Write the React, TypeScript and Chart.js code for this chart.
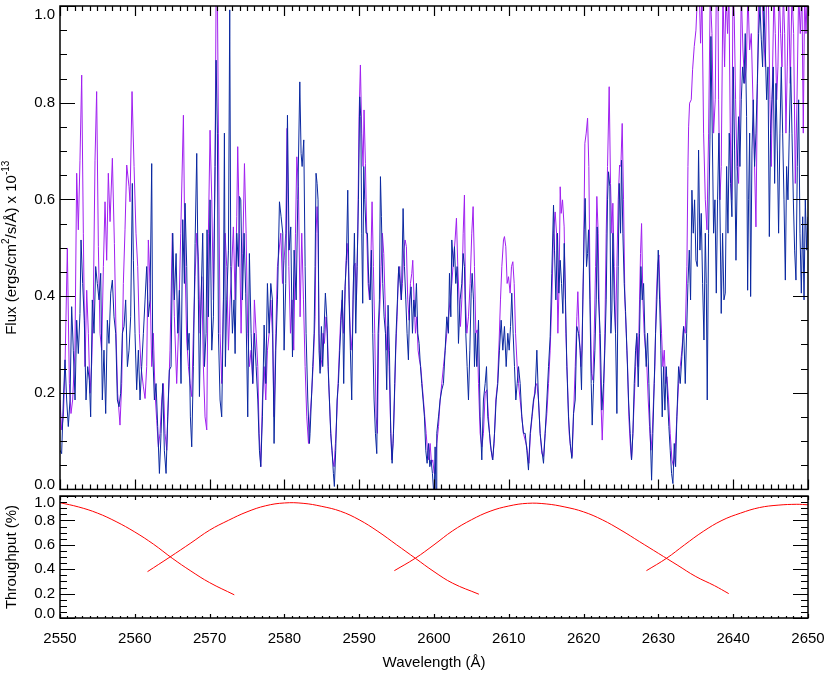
import React, { useEffect, useRef } from 'react';
import { Chart, registerables } from 'chart.js';

Chart.register(...registerables);

// ---------- data (wavelength in Å, flux in 1e-13 ergs/cm^2/s/Å) ----------
const purpleSpectrum: [number, number][] = [
  [2550.0, 0.185], [2550.22, 0.123], [2550.45, 0.15], [2550.67, 0.254], [2550.98, 0.499], [2551.25, 0.219],
  [2551.47, 0.157], [2551.69, 0.185], [2552.0, 0.288], [2552.23, 0.654], [2552.45, 0.537], [2552.67, 0.681],
  [2552.9, 0.857], [2553.12, 0.53], [2553.34, 0.254], [2553.57, 0.412], [2553.79, 0.323], [2554.01, 0.199],
  [2554.24, 0.261], [2554.46, 0.392], [2554.68, 0.681], [2554.9, 0.823], [2555.13, 0.502], [2555.35, 0.323],
  [2555.57, 0.288], [2555.8, 0.461], [2556.02, 0.595], [2556.24, 0.474], [2556.46, 0.654], [2556.69, 0.554],
  [2557.0, 0.685], [2557.27, 0.509], [2557.49, 0.323], [2557.71, 0.199], [2558.02, 0.133], [2558.25, 0.219],
  [2558.47, 0.426], [2558.69, 0.537], [2558.92, 0.671], [2559.23, 0.626], [2559.36, 0.595], [2559.63, 0.823],
  [2559.9, 0.668], [2560.16, 0.53], [2560.39, 0.461], [2560.61, 0.323], [2560.83, 0.254], [2561.15, 0.212],
  [2561.37, 0.188], [2561.59, 0.254], [2561.81, 0.516], [2562.04, 0.426], [2562.26, 0.254], [2562.48, 0.323],
  [2562.71, 0.199], [2562.93, 0.143], [2563.15, 0.088], [2563.37, 0.116], [2563.6, 0.185], [2563.82, 0.219],
  [2564.04, 0.116], [2564.27, 0.081], [2564.49, 0.185], [2564.71, 0.288], [2565.02, 0.53], [2565.29, 0.357],
  [2565.6, 0.219], [2565.83, 0.323], [2566.14, 0.53], [2566.5, 0.774],
  [2566.72, 0.461], [2566.94, 0.309], [2567.17, 0.254], [2567.39, 0.219], [2567.61, 0.192], [2567.83, 0.323],
  [2568.06, 0.44], [2568.28, 0.53], [2568.5, 0.481], [2568.73, 0.323], [2568.95, 0.44], [2569.17, 0.254],
  [2569.39, 0.15], [2569.62, 0.123], [2569.84, 0.53], [2570.06, 0.743], [2570.29, 0.599], [2570.51, 0.392],
  [2570.73, 0.668], [2570.87, 1.03], [2571.04, 1.03], [2571.18, 0.737], [2571.4, 0.323], [2571.62, 0.219],
  [2571.85, 0.392], [2572.07, 0.53], [2572.29, 0.461], [2572.52, 0.288], [2572.74, 0.392], [2572.96, 0.461],
  [2573.18, 0.543], [2573.41, 0.392], [2573.63, 0.564], [2573.76, 0.709], [2573.99, 0.53], [2574.21, 0.323],
  [2574.43, 0.488], [2574.66, 0.674], [2574.88, 0.53], [2575.1, 0.323], [2575.32, 0.254], [2575.55, 0.288],
  [2575.77, 0.219], [2575.99, 0.392], [2576.22, 0.323], [2576.44, 0.254], [2576.62, 0.116], [2576.84, 0.047],
  [2577.06, 0.185], [2577.29, 0.254], [2577.51, 0.185], [2577.73, 0.288], [2577.96, 0.323], [2578.18, 0.392],
  [2578.4, 0.323], [2578.62, 0.15], [2578.85, 0.323], [2579.07, 0.461], [2579.29, 0.495], [2579.52, 0.53],
  [2579.74, 0.426], [2579.96, 0.474], [2580.18, 0.53], [2580.36, 0.747], [2580.59, 0.461], [2580.81, 0.323],
  [2581.03, 0.392], [2581.25, 0.288], [2581.48, 0.53], [2581.66, 0.688], [2581.88, 0.626], [2582.1, 0.357],
  [2582.32, 0.53], [2582.55, 0.392], [2582.77, 0.254], [2582.99, 0.15], [2583.22, 0.095],
  [2583.43, 0.15], [2583.65, 0.199], [2583.88, 0.268], [2584.1, 0.357], [2584.23, 0.53], [2584.37, 0.585],
  [2584.5, 0.53], [2584.63, 0.323], [2584.81, 0.247], [2584.99, 0.268], [2585.17, 0.323], [2585.35, 0.302],
  [2585.57, 0.357], [2585.75, 0.323], [2585.93, 0.219], [2586.11, 0.15], [2586.28, 0.095], [2586.46, 0.061],
  [2586.64, 0.047], [2586.82, 0.095], [2587.0, 0.15], [2587.17, 0.219], [2587.35, 0.288], [2587.53, 0.357],
  [2587.71, 0.392], [2587.89, 0.323], [2588.07, 0.392], [2588.25, 0.474], [2588.38, 0.509], [2588.56, 0.461],
  [2588.74, 0.357], [2588.91, 0.288], [2589.09, 0.323], [2589.27, 0.461], [2589.45, 0.468], [2589.63, 0.392],
  [2589.81, 0.53], [2589.98, 0.771], [2590.16, 0.878], [2590.34, 0.737], [2590.52, 0.668], [2590.65, 0.785],
  [2590.83, 0.674], [2591.01, 0.53], [2591.19, 0.426], [2591.37, 0.392], [2591.54, 0.461], [2591.72, 0.595],
  [2591.9, 0.461], [2592.08, 0.323], [2592.26, 0.15], [2592.44, 0.116], [2592.61, 0.323], [2592.79, 0.392],
  [2592.93, 0.461], [2593.1, 0.53], [2593.28, 0.488], [2593.46, 0.392], [2593.64, 0.288], [2593.82, 0.337],
  [2594.0, 0.254], [2594.17, 0.15], [2594.35, 0.061], [2594.53, 0.095], [2594.71, 0.185], [2594.89, 0.288],
  [2595.07, 0.357], [2595.24, 0.447], [2595.42, 0.461], [2595.6, 0.392], [2595.78, 0.426], [2595.96, 0.495],
  [2596.14, 0.516], [2596.31, 0.502], [2596.49, 0.392], [2596.67, 0.35], [2596.85, 0.426], [2597.03, 0.447],
  [2597.16, 0.474], [2597.34, 0.392], [2597.52, 0.323], [2597.7, 0.357], [2597.87, 0.288], [2598.05, 0.268],
  [2598.23, 0.254], [2598.41, 0.219], [2598.59, 0.185], [2598.77, 0.15], [2598.95, 0.116], [2599.12, 0.081],
  [2599.3, 0.061], [2599.48, 0.095], [2599.66, 0.054], [2599.84, 0.061], [2600.02, 0.033],
  [2600.15, 0.033], [2600.37, 0.095], [2600.6, 0.13], [2600.82, 0.185], [2601.04, 0.219], [2601.26, 0.254],
  [2601.49, 0.288], [2601.71, 0.323], [2601.93, 0.357], [2602.16, 0.392], [2602.38, 0.426], [2602.6, 0.474],
  [2602.82, 0.516], [2603.0, 0.561], [2603.18, 0.461], [2603.36, 0.392], [2603.54, 0.337], [2603.72, 0.392],
  [2603.9, 0.53], [2604.07, 0.609], [2604.21, 0.392], [2604.39, 0.323], [2604.61, 0.357], [2604.83, 0.426],
  [2605.05, 0.53], [2605.23, 0.585], [2605.41, 0.461], [2605.59, 0.323], [2605.77, 0.33], [2605.95, 0.219],
  [2606.17, 0.116], [2606.39, 0.088], [2606.61, 0.116], [2606.84, 0.199], [2607.06, 0.206], [2607.28, 0.15],
  [2607.51, 0.095], [2607.82, 0.061], [2608.04, 0.095], [2608.26, 0.185], [2608.49, 0.219], [2608.71, 0.309],
  [2608.89, 0.392], [2609.07, 0.461], [2609.29, 0.516], [2609.42, 0.523], [2609.6, 0.502], [2609.78, 0.426],
  [2609.96, 0.44], [2610.18, 0.406], [2610.36, 0.461], [2610.54, 0.471], [2610.72, 0.426], [2610.9, 0.323],
  [2611.12, 0.254], [2611.3, 0.219], [2611.52, 0.185], [2611.74, 0.15], [2611.96, 0.116], [2612.19, 0.102],
  [2612.41, 0.088], [2612.68, 0.054], [2612.9, 0.116], [2613.12, 0.15], [2613.35, 0.185], [2613.52, 0.212],
  [2613.75, 0.219], [2613.97, 0.185], [2614.19, 0.116], [2614.42, 0.074], [2614.64, 0.068], [2614.86, 0.116],
  [2615.09, 0.157], [2615.31, 0.219], [2615.53, 0.288], [2615.75, 0.392], [2615.98, 0.53], [2616.2, 0.574],
  [2616.38, 0.53], [2616.56, 0.323], [2616.73, 0.426],
  [2616.87, 0.626], [2617.0, 0.571], [2617.18, 0.599], [2617.4, 0.543], [2617.63, 0.323], [2617.85, 0.219],
  [2618.07, 0.116], [2618.3, 0.081], [2618.47, 0.068], [2618.65, 0.15], [2618.88, 0.254], [2619.1, 0.357],
  [2619.23, 0.409], [2619.41, 0.323], [2619.63, 0.254], [2619.77, 0.288], [2619.99, 0.461], [2620.17, 0.716],
  [2620.35, 0.737], [2620.53, 0.768], [2620.7, 0.668], [2620.88, 0.392], [2621.06, 0.24], [2621.24, 0.226],
  [2621.42, 0.323], [2621.6, 0.461], [2621.77, 0.606], [2621.95, 0.53], [2622.13, 0.323], [2622.31, 0.185],
  [2622.49, 0.102], [2622.67, 0.185], [2622.84, 0.323], [2623.02, 0.53], [2623.2, 0.668], [2623.42, 0.833],
  [2623.6, 0.633], [2623.78, 0.53], [2623.91, 0.592], [2624.09, 0.461], [2624.27, 0.323], [2624.45, 0.461],
  [2624.63, 0.599], [2624.81, 0.671], [2624.98, 0.668], [2625.16, 0.757], [2625.34, 0.599], [2625.52, 0.392],
  [2625.7, 0.323], [2625.88, 0.254], [2626.05, 0.15], [2626.23, 0.095], [2626.41, 0.061], [2626.59, 0.116],
  [2626.77, 0.185], [2626.95, 0.254], [2627.12, 0.316], [2627.3, 0.254], [2627.48, 0.392], [2627.61, 0.488],
  [2627.75, 0.55], [2627.93, 0.392], [2628.1, 0.323], [2628.28, 0.288], [2628.46, 0.254], [2628.64, 0.185],
  [2628.82, 0.13], [2629.0, 0.081], [2629.18, 0.116], [2629.35, 0.185], [2629.53, 0.254], [2629.71, 0.392],
  [2629.89, 0.461], [2630.07, 0.485], [2630.24, 0.392], [2630.42, 0.323], [2630.6, 0.254], [2630.78, 0.288],
  [2630.96, 0.219], [2631.14, 0.233], [2631.36, 0.185], [2631.58, 0.116], [2631.81, 0.061], [2632.03, 0.047],
  [2632.25, 0.081], [2632.47, 0.15], [2632.7, 0.219], [2632.92, 0.254], [2633.14, 0.288], [2633.37, 0.337],
  [2633.59, 0.323], [2633.81, 0.461], [2633.95, 0.668], [2634.04, 0.75], [2634.17, 0.799], [2634.39, 0.806],
  [2634.57, 0.868], [2634.79, 0.916], [2635.02, 0.95], [2635.24, 1.03], [2635.46, 1.03], [2635.64, 0.923],
  [2635.82, 1.03], [2636.04, 0.737], [2636.27, 0.599], [2636.49, 0.537], [2636.71, 0.737], [2636.93, 1.03],
  [2637.16, 0.943], [2637.38, 0.737], [2637.6, 0.806], [2637.74, 1.03], [2637.96, 1.03], [2638.05, 0.806],
  [2638.23, 0.599], [2638.4, 0.668], [2638.63, 1.03], [2638.85, 0.874], [2639.03, 1.03], [2639.25, 0.943],
  [2639.43, 1.03], [2639.61, 0.737], [2639.79, 0.599], [2639.97, 1.03], [2640.14, 0.978], [2640.32, 0.806],
  [2640.5, 0.668], [2640.72, 0.633], [2640.9, 0.806], [2641.08, 1.03], [2641.3, 0.909], [2641.53, 0.84],
  [2641.75, 0.874], [2641.97, 1.03], [2642.19, 0.909], [2642.42, 0.943], [2642.64, 0.806], [2642.86, 0.668],
  [2643.04, 0.543], [2643.22, 0.806], [2643.4, 1.03], [2643.84, 1.03], [2644.07, 0.943], [2644.29, 0.874],
  [2644.47, 1.03], [2644.69, 1.03], [2644.91, 0.806], [2645.09, 0.668], [2645.27, 0.874], [2645.45, 1.03],
  [2645.63, 0.943], [2645.81, 0.806], [2645.98, 0.874], [2646.16, 1.03], [2646.34, 0.943], [2646.52, 0.874],
  [2646.7, 1.03], [2646.88, 0.943], [2647.05, 0.737], [2647.23, 0.874], [2647.41, 1.03], [2647.63, 0.84],
  [2647.86, 1.03], [2648.08, 0.943], [2648.3, 0.633], [2648.53, 0.806], [2648.75, 1.03], [2648.97, 0.943],
  [2649.19, 1.03], [2649.37, 0.737], [2649.55, 1.03], [2649.73, 0.943], [2649.91, 1.03],
];

const blueSpectrum: [number, number][] = [
  [2550.0, 0.081], [2550.22, 0.074], [2550.45, 0.185], [2550.67, 0.268], [2550.89, 0.185], [2551.11, 0.13],
  [2551.34, 0.185], [2551.56, 0.378], [2551.78, 0.288], [2552.01, 0.185], [2552.23, 0.35], [2552.45, 0.281],
  [2552.67, 0.364], [2552.81, 0.516], [2553.03, 0.426], [2553.25, 0.35], [2553.48, 0.185], [2553.7, 0.254],
  [2553.92, 0.226], [2554.1, 0.15], [2554.32, 0.392], [2554.55, 0.323], [2554.77, 0.461], [2554.99, 0.426],
  [2555.22, 0.392], [2555.44, 0.447], [2555.66, 0.185], [2555.88, 0.288], [2556.11, 0.157], [2556.33, 0.35],
  [2556.55, 0.302], [2556.78, 0.406], [2557.0, 0.433], [2557.22, 0.357], [2557.45, 0.323], [2557.67, 0.185],
  [2557.89, 0.171], [2558.11, 0.199], [2558.34, 0.323], [2558.56, 0.337], [2558.78, 0.392], [2559.01, 0.254],
  [2559.23, 0.288], [2559.45, 0.357], [2559.67, 0.633], [2559.81, 0.474], [2560.03, 0.323], [2560.25, 0.206],
  [2560.48, 0.288], [2560.7, 0.185], [2560.92, 0.254], [2561.15, 0.323], [2561.37, 0.392], [2561.59, 0.461],
  [2561.81, 0.357], [2562.04, 0.392], [2562.26, 0.674], [2562.39, 0.288], [2562.62, 0.185], [2562.84, 0.219],
  [2563.06, 0.13], [2563.29, 0.033], [2563.51, 0.116], [2563.73, 0.219], [2563.95, 0.081], [2564.18, 0.033],
  [2564.4, 0.15], [2564.62, 0.247], [2564.85, 0.254], [2565.07, 0.53], [2565.29, 0.392], [2565.52, 0.488],
  [2565.74, 0.323], [2565.96, 0.412], [2566.18, 0.219], [2566.41, 0.558], [2566.63, 0.426],
  [2566.72, 0.592], [2566.94, 0.461], [2567.08, 0.288], [2567.26, 0.323], [2567.43, 0.15], [2567.61, 0.088],
  [2567.83, 0.254], [2568.06, 0.509], [2568.28, 0.695], [2568.5, 0.392], [2568.64, 0.192], [2568.86, 0.392],
  [2569.08, 0.53], [2569.31, 0.254], [2569.53, 0.323], [2569.66, 0.537], [2569.84, 0.357], [2570.06, 0.599],
  [2570.29, 0.288], [2570.51, 0.357], [2570.73, 0.668], [2570.87, 0.888], [2571.04, 0.737], [2571.18, 0.323],
  [2571.4, 0.185], [2571.62, 0.15], [2571.85, 0.392], [2571.98, 0.737], [2572.11, 0.254], [2572.29, 0.392],
  [2572.52, 0.495], [2572.69, 0.992], [2572.83, 0.461], [2573.05, 0.323], [2573.27, 0.392], [2573.41, 0.281],
  [2573.63, 0.53], [2573.85, 0.461], [2573.99, 0.606], [2574.17, 0.599], [2574.39, 0.392], [2574.61, 0.53],
  [2574.83, 0.406], [2575.1, 0.15], [2575.32, 0.488], [2575.55, 0.323], [2575.77, 0.219], [2575.99, 0.323],
  [2576.22, 0.254], [2576.44, 0.185], [2576.66, 0.081], [2576.84, 0.047], [2577.06, 0.15], [2577.29, 0.34],
  [2577.51, 0.219], [2577.73, 0.426], [2577.96, 0.323], [2578.18, 0.426], [2578.4, 0.392], [2578.62, 0.095],
  [2578.85, 0.288], [2579.07, 0.392], [2579.34, 0.595], [2579.56, 0.564], [2579.78, 0.53], [2579.96, 0.288],
  [2580.18, 0.426], [2580.41, 0.774], [2580.63, 0.495], [2580.85, 0.543], [2581.08, 0.274], [2581.3, 0.495],
  [2581.57, 0.392], [2581.79, 0.599], [2582.06, 0.843], [2582.23, 0.695], [2582.37, 0.668], [2582.59, 0.723],
  [2582.77, 0.461], [2582.9, 0.323], [2583.13, 0.185], [2583.35, 0.095],
  [2583.43, 0.116], [2583.61, 0.185], [2583.79, 0.254], [2583.97, 0.323], [2584.1, 0.461], [2584.23, 0.654],
  [2584.37, 0.633], [2584.5, 0.599], [2584.63, 0.288], [2584.77, 0.24], [2584.95, 0.337], [2585.12, 0.254],
  [2585.3, 0.33], [2585.48, 0.406], [2585.66, 0.357], [2585.84, 0.254], [2586.02, 0.185], [2586.19, 0.116],
  [2586.37, 0.081], [2586.55, 0.033], [2586.68, 0.006], [2586.86, 0.081], [2587.04, 0.185], [2587.22, 0.219],
  [2587.4, 0.288], [2587.58, 0.35], [2587.75, 0.412], [2587.93, 0.219], [2588.11, 0.419], [2588.29, 0.474],
  [2588.47, 0.619], [2588.65, 0.392], [2588.82, 0.288], [2589.0, 0.185], [2589.18, 0.392], [2589.36, 0.53],
  [2589.54, 0.323], [2589.72, 0.461], [2589.9, 0.599], [2590.07, 0.812], [2590.21, 0.771], [2590.34, 0.53],
  [2590.47, 0.385], [2590.61, 0.668], [2590.74, 0.599], [2590.92, 0.53], [2591.1, 0.53], [2591.28, 0.426],
  [2591.46, 0.392], [2591.63, 0.495], [2591.81, 0.323], [2591.99, 0.185], [2592.17, 0.116], [2592.35, 0.074],
  [2592.53, 0.323], [2592.7, 0.392], [2592.84, 0.647], [2592.97, 0.564], [2593.15, 0.426], [2593.33, 0.357],
  [2593.51, 0.323], [2593.68, 0.206], [2593.86, 0.381], [2594.04, 0.288], [2594.22, 0.116], [2594.4, 0.054],
  [2594.58, 0.116], [2594.75, 0.219], [2594.93, 0.323], [2595.11, 0.392], [2595.29, 0.461], [2595.47, 0.426],
  [2595.65, 0.392], [2595.87, 0.581], [2596.05, 0.461], [2596.23, 0.392], [2596.4, 0.323], [2596.58, 0.268],
  [2596.76, 0.392], [2596.94, 0.419], [2597.12, 0.323], [2597.3, 0.392], [2597.47, 0.357], [2597.65, 0.426],
  [2597.83, 0.323], [2598.01, 0.302], [2598.19, 0.254], [2598.36, 0.219], [2598.54, 0.185], [2598.72, 0.15],
  [2598.9, 0.081], [2599.08, 0.054], [2599.26, 0.095], [2599.44, 0.047], [2599.61, 0.061], [2599.79, 0.033],
  [2600.02, -0.02],
  [2600.15, 0.088], [2600.28, -0.02], [2600.37, 0.116], [2600.6, 0.15], [2600.82, 0.185], [2601.04, 0.206],
  [2601.26, 0.219], [2601.49, 0.288], [2601.71, 0.357], [2601.93, 0.323], [2602.07, 0.447], [2602.25, 0.357],
  [2602.38, 0.516], [2602.6, 0.461], [2602.74, 0.502], [2602.91, 0.426], [2603.09, 0.461], [2603.27, 0.302],
  [2603.49, 0.392], [2603.72, 0.426], [2603.9, 0.488], [2604.07, 0.461], [2604.25, 0.323], [2604.43, 0.254],
  [2604.61, 0.185], [2604.79, 0.288], [2604.97, 0.406], [2605.1, 0.447], [2605.28, 0.392], [2605.41, 0.254],
  [2605.54, 0.323], [2605.72, 0.254], [2605.95, 0.35], [2606.17, 0.15], [2606.39, 0.061], [2606.61, 0.185],
  [2606.84, 0.219], [2607.02, 0.254], [2607.19, 0.15], [2607.42, 0.116], [2607.64, 0.081], [2607.86, 0.061],
  [2608.09, 0.116], [2608.31, 0.185], [2608.53, 0.219], [2608.75, 0.288], [2608.98, 0.35], [2609.2, 0.288],
  [2609.42, 0.337], [2609.65, 0.254], [2609.87, 0.323], [2610.05, 0.288], [2610.23, 0.337], [2610.4, 0.406],
  [2610.58, 0.323], [2610.76, 0.254], [2610.94, 0.185], [2611.12, 0.219], [2611.3, 0.254], [2611.52, 0.219],
  [2611.74, 0.15], [2611.96, 0.116], [2612.19, 0.116], [2612.41, 0.081], [2612.63, 0.04], [2612.86, 0.116],
  [2613.08, 0.15], [2613.3, 0.185], [2613.52, 0.199], [2613.75, 0.288], [2613.97, 0.185], [2614.19, 0.116],
  [2614.42, 0.081], [2614.64, 0.054], [2614.86, 0.116], [2615.09, 0.185], [2615.31, 0.254], [2615.53, 0.316],
  [2615.75, 0.447], [2615.98, 0.588], [2616.11, 0.495], [2616.29, 0.392], [2616.51, 0.53], [2616.69, 0.406],
  [2616.87, 0.474], [2617.05, 0.426], [2617.23, 0.364], [2617.41, 0.509], [2617.58, 0.392], [2617.76, 0.254],
  [2617.98, 0.15], [2618.21, 0.095], [2618.43, 0.064], [2618.65, 0.157], [2618.88, 0.185], [2619.1, 0.337],
  [2619.32, 0.323], [2619.55, 0.288], [2619.72, 0.206], [2619.9, 0.392], [2620.08, 0.537], [2620.21, 0.602],
  [2620.39, 0.461], [2620.53, 0.488], [2620.66, 0.537], [2620.84, 0.392], [2621.02, 0.219], [2621.15, 0.133],
  [2621.33, 0.219], [2621.51, 0.288], [2621.69, 0.392], [2621.82, 0.543], [2622.0, 0.392], [2622.22, 0.323],
  [2622.44, 0.164], [2622.67, 0.219], [2622.84, 0.288], [2623.02, 0.392], [2623.2, 0.599], [2623.33, 0.657],
  [2623.51, 0.626], [2623.65, 0.323], [2623.78, 0.371], [2623.91, 0.53], [2624.09, 0.392], [2624.27, 0.323],
  [2624.45, 0.157], [2624.63, 0.461], [2624.76, 0.633], [2624.94, 0.53], [2625.07, 0.681], [2625.25, 0.53],
  [2625.43, 0.426], [2625.61, 0.368], [2625.79, 0.288], [2626.01, 0.185], [2626.23, 0.116], [2626.41, 0.061],
  [2626.59, 0.116], [2626.77, 0.219], [2626.95, 0.288], [2627.12, 0.323], [2627.3, 0.212], [2627.48, 0.323],
  [2627.66, 0.461], [2627.84, 0.392], [2628.02, 0.426], [2628.19, 0.323], [2628.37, 0.254], [2628.55, 0.323],
  [2628.73, 0.219], [2628.91, 0.116], [2629.09, 0.019], [2629.26, 0.116], [2629.44, 0.219], [2629.62, 0.323],
  [2629.8, 0.392], [2629.98, 0.495], [2630.16, 0.392], [2630.33, 0.288], [2630.51, 0.15], [2630.69, 0.254],
  [2630.87, 0.164], [2631.05, 0.254], [2631.23, 0.185], [2631.4, 0.13], [2631.58, 0.081], [2631.76, 0.033],
  [2631.94, 0.012], [2632.12, 0.095], [2632.3, 0.047], [2632.47, 0.15], [2632.7, 0.254], [2632.92, 0.219],
  [2633.14, 0.275], [2633.37, 0.337],
  [2633.59, 0.219], [2633.77, 0.323], [2633.95, 0.426], [2634.13, 0.495], [2634.3, 0.392], [2634.48, 0.619],
  [2634.66, 0.53], [2634.84, 0.599], [2635.02, 0.474], [2635.2, 0.461], [2635.37, 0.702], [2635.55, 0.495],
  [2635.73, 0.571], [2635.91, 0.426], [2636.09, 0.309], [2636.27, 0.53], [2636.4, 0.426], [2636.53, 0.185],
  [2636.71, 0.53], [2636.89, 0.723], [2637.02, 0.937], [2637.2, 0.737], [2637.38, 0.53], [2637.56, 0.599],
  [2637.74, 0.406], [2637.91, 0.599], [2638.09, 0.737], [2638.27, 0.53], [2638.4, 0.364], [2638.58, 0.53],
  [2638.76, 0.392], [2638.94, 0.406], [2639.12, 0.668], [2639.3, 0.53], [2639.47, 0.737], [2639.65, 0.633],
  [2639.83, 0.564], [2640.01, 0.874], [2640.19, 0.702], [2640.37, 0.474], [2640.55, 0.668], [2640.72, 0.771],
  [2640.9, 0.668], [2641.08, 0.806], [2641.26, 0.874], [2641.44, 0.84], [2641.61, 0.943], [2641.79, 0.771],
  [2641.93, 0.412], [2642.06, 0.599], [2642.2, 0.737], [2642.33, 0.399], [2642.51, 0.702], [2642.69, 0.806],
  [2642.86, 0.668], [2643.04, 0.737], [2643.22, 0.84], [2643.4, 0.943], [2643.58, 1.0], [2643.76, 0.93],
  [2643.93, 0.874], [2644.11, 1.0], [2644.29, 0.909], [2644.47, 0.806], [2644.65, 0.874], [2644.83, 0.523],
  [2645.0, 0.737], [2645.18, 0.806], [2645.36, 0.874], [2645.54, 0.633], [2645.72, 0.84], [2645.9, 0.702],
  [2646.07, 0.53], [2646.25, 0.737], [2646.43, 0.874], [2646.61, 0.737], [2646.79, 0.599], [2646.97, 0.433],
  [2647.14, 0.668], [2647.32, 0.599], [2647.5, 0.737], [2647.68, 0.874], [2647.86, 0.737], [2648.04, 0.599],
  [2648.21, 0.495], [2648.39, 0.433], [2648.57, 0.668], [2648.75, 0.806], [2648.93, 0.53], [2649.11, 0.406],
  [2649.29, 0.564], [2649.47, 0.392], [2649.64, 0.599], [2649.82, 0.495], [2650.0, 0.564],
];

// throughput curves (fraction)
const throughputA: [number, number][] = [
  [2550.0, 0.945], [2552.5, 0.91], [2555.0, 0.86], [2557.5, 0.79], [2560.0, 0.705], [2562.5, 0.605],
  [2565.0, 0.49], [2567.5, 0.385], [2570.0, 0.29], [2573.3, 0.19],
];
const throughputB: [number, number][] = [
  [2561.7, 0.38], [2564.7, 0.5], [2567.5, 0.615], [2570.0, 0.72], [2572.5, 0.8], [2575.0, 0.87],
  [2577.5, 0.92], [2580.0, 0.943], [2582.5, 0.94], [2585.0, 0.915], [2587.5, 0.875], [2590.0, 0.805],
  [2592.5, 0.71], [2595.0, 0.6], [2597.5, 0.49], [2600.0, 0.38], [2602.5, 0.285], [2606.0, 0.195],
];
const throughputC: [number, number][] = [
  [2594.7, 0.388], [2597.5, 0.49], [2600.0, 0.6], [2602.5, 0.715], [2605.0, 0.805], [2607.5, 0.875],
  [2610.0, 0.918], [2612.5, 0.94], [2615.0, 0.935], [2617.5, 0.91], [2620.0, 0.87], [2622.5, 0.805],
  [2625.0, 0.72], [2627.5, 0.625], [2630.0, 0.53], [2632.5, 0.435], [2635.0, 0.34], [2637.5, 0.265],
  [2639.4, 0.2],
];
const throughputD: [number, number][] = [
  [2628.4, 0.388], [2631.1, 0.49], [2633.5, 0.6], [2636.0, 0.71], [2638.5, 0.8], [2641.0, 0.86],
  [2643.5, 0.905], [2646.0, 0.925], [2648.5, 0.932], [2650.0, 0.928],
];

const xTickLabels = ['2550', '2560', '2570', '2580', '2590', '2600', '2610', '2620', '2630', '2640', '2650'];
const fluxTickLabels = ['0.0', '0.2', '0.4', '0.6', '0.8', '1.0'];
const throughputTickLabels = ['0.0', '0.2', '0.4', '0.6', '0.8', '1.0'];

const FONT_FAMILY = '"Liberation Sans", Arial, Helvetica, sans-serif';
const PURPLE = '#a020f0';
const BLUE = '#0a28a0';
const RED = '#ff0000';

const W = 830;
const H = 673;

type FrameCfg = {
  xMajor: number;
  xMinor: number;
  yMajor: number;
  yMinor: number;
  yLabels: string[];
  labelTopShift: number;
  labelBottomShift: number;
  xLabels: boolean;
  title: 'flux' | 'throughput';
};

function toPoints(arr: [number, number][]) {
  return arr.map(([x, y]) => ({ x, y }));
}

function drawFrame(chart: any, cfg: FrameCfg) {
  const ctx: CanvasRenderingContext2D = chart.ctx;
  const a = chart.chartArea;
  const xs = chart.scales.x;
  const ys = chart.scales.y;
  ctx.save();
  ctx.strokeStyle = '#000';
  ctx.fillStyle = '#000';
  ctx.lineWidth = 1.2;
  ctx.beginPath();
  const x0 = Number(xTickLabels[0]);
  const x1 = Number(xTickLabels[xTickLabels.length - 1]);
  for (let v = x0; v <= x1; v += 1) {
    const px = Math.round(xs.getPixelForValue(v)) + 0.5;
    const len = (v - x0) % 10 === 0 ? cfg.xMajor : cfg.xMinor;
    ctx.moveTo(px, a.bottom);
    ctx.lineTo(px, a.bottom - len);
    ctx.moveTo(px, a.top);
    ctx.lineTo(px, a.top + len);
  }
  for (let k = 0; k <= 20; k++) {
    const v = k * 0.05;
    const py = Math.round(ys.getPixelForValue(v)) + 0.5;
    const len = k % 4 === 0 ? cfg.yMajor : cfg.yMinor;
    ctx.moveTo(a.left, py);
    ctx.lineTo(a.left + len, py);
    ctx.moveTo(a.right, py);
    ctx.lineTo(a.right - len, py);
  }
  ctx.stroke();
  ctx.lineWidth = 1.5;
  ctx.strokeRect(a.left, a.top, a.right - a.left, a.bottom - a.top);

  ctx.font = `15px ${FONT_FAMILY}`;
  ctx.textAlign = 'right';
  ctx.textBaseline = 'middle';
  cfg.yLabels.forEach((lab) => {
    let py = ys.getPixelForValue(Number(lab));
    py = Math.max(a.top + cfg.labelTopShift, Math.min(a.bottom - cfg.labelBottomShift, py));
    ctx.fillText(lab, a.left - 5, py);
  });

  if (cfg.xLabels) {
    ctx.textAlign = 'center';
    xTickLabels.forEach((lab) => {
      ctx.fillText(lab, xs.getPixelForValue(Number(lab)), a.bottom + 21);
    });
    ctx.fillText('Wavelength (Å)', (a.left + a.right) / 2, a.bottom + 45);
  }

  // rotated y title
  const cy = (a.top + a.bottom) / 2;
  ctx.translate(12, cy);
  ctx.rotate(-Math.PI / 2);
  ctx.textBaseline = 'middle';
  ctx.textAlign = 'left';
  if (cfg.title === 'flux') {
    const main = `15px ${FONT_FAMILY}`;
    const sup = `10px ${FONT_FAMILY}`;
    const parts: [string, boolean][] = [
      ['Flux (ergs/cm', false],
      ['2', true],
      ['/s/Å) x 10', false],
      ['-13', true],
    ];
    let total = 0;
    parts.forEach(([t, s]) => {
      ctx.font = s ? sup : main;
      total += ctx.measureText(t).width;
    });
    let x = -total / 2;
    parts.forEach(([t, s]) => {
      ctx.font = s ? sup : main;
      ctx.fillText(t, x, s ? -6 : 0);
      x += ctx.measureText(t).width;
    });
  } else {
    ctx.font = `15px ${FONT_FAMILY}`;
    ctx.textAlign = 'center';
    ctx.fillText('Throughput (%)', 0, 0);
  }
  ctx.restore();
}

function framePlugin(cfg: FrameCfg) {
  return {
    id: 'idlFrame',
    afterDraw(chart: any) {
      drawFrame(chart, cfg);
    },
  };
}

const hiddenScales = (ymin: number, ymax: number) => ({
  x: { type: 'linear' as const, min: 2550, max: 2650, display: false },
  y: { type: 'linear' as const, min: ymin, max: ymax, display: false },
});

export default function App() {
  const topRef = useRef<HTMLCanvasElement | null>(null);
  const botRef = useRef<HTMLCanvasElement | null>(null);

  useEffect(() => {
    const lineDs = (label: string, data: [number, number][], color: string, tension = 0) => ({
      label,
      data: toPoints(data),
      borderColor: color,
      backgroundColor: color,
      borderWidth: 1,
      pointRadius: 0,
      fill: false,
      tension,
    });

    const top = new Chart(topRef.current as HTMLCanvasElement, {
      type: 'line',
      data: {
        datasets: [lineDs('Spectrum B', blueSpectrum, BLUE), lineDs('Spectrum A', purpleSpectrum, PURPLE)],
      },
      options: {
        responsive: false,
        animation: false,
        events: [],
        layout: { padding: { left: 60, top: 6, right: W - 808, bottom: H - 489.4 } },
        plugins: { legend: { display: false }, tooltip: { enabled: false }, title: { display: false } },
        scales: hiddenScales(0, 1),
      },
      plugins: [
        framePlugin({
          xMajor: 10,
          xMinor: 5,
          yMajor: 15,
          yMinor: 7,
          yLabels: fluxTickLabels,
          labelTopShift: 9,
          labelBottomShift: 5,
          xLabels: false,
          title: 'flux',
        }),
      ],
    });

    const bottom = new Chart(botRef.current as HTMLCanvasElement, {
      type: 'line',
      data: {
        datasets: [
          lineDs('Filter 1', throughputA, RED, 0.4),
          lineDs('Filter 2', throughputB, RED, 0.4),
          lineDs('Filter 3', throughputC, RED, 0.4),
          lineDs('Filter 4', throughputD, RED, 0.4),
        ],
      },
      options: {
        responsive: false,
        animation: false,
        events: [],
        layout: { padding: { left: 60, top: 496, right: W - 808, bottom: H - 618 } },
        plugins: { legend: { display: false }, tooltip: { enabled: false }, title: { display: false } },
        scales: hiddenScales(0, 1),
      },
      plugins: [
        framePlugin({
          xMajor: 4,
          xMinor: 2,
          yMajor: 15,
          yMinor: 7,
          yLabels: throughputTickLabels,
          labelTopShift: 7,
          labelBottomShift: 4,
          xLabels: true,
          title: 'throughput',
        }),
      ],
    });

    return () => {
      top.destroy();
      bottom.destroy();
    };
  }, []);

  const canvasStyle: React.CSSProperties = { position: 'absolute', left: 0, top: 0, width: W, height: H };
  return (
    <div style={{ position: 'absolute', left: 0, top: 0, width: W, height: H, background: '#fff', overflow: 'hidden' }}>
      <canvas ref={topRef} width={W} height={H} style={canvasStyle} />
      <canvas ref={botRef} width={W} height={H} style={canvasStyle} />
    </div>
  );
}
